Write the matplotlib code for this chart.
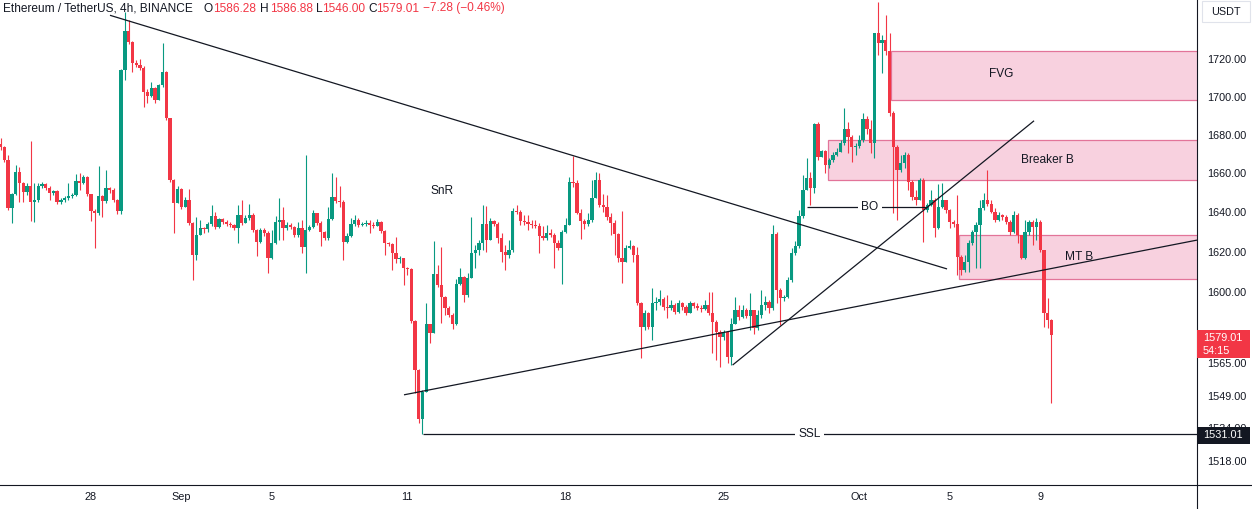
import numpy as np
import pandas as pd
import matplotlib
matplotlib.use('Agg')
import matplotlib.pyplot as plt
import matplotlib.dates as mdates
import matplotlib.ticker as mticker
from matplotlib.patches import Rectangle
from matplotlib.lines import Line2D

# ── Data: ETH/USDT 4h candles ──────────────────────────────────────────────
START = pd.Timestamp('2023-08-24 00:00')
first_open = 1675.2

close = [
    1673.7, 1666.9, 1642.3, 1649.5, 1660.8, 1655.1, 1650.5, 1653.6, 1645.4, 1646.4,
    1653.6, 1654.6, 1652.6, 1650.0, 1651.0, 1645.4, 1646.4, 1647.5, 1648.5, 1649.0,
    1656.2, 1655.1, 1658.2, 1649.5, 1640.8, 1639.8, 1648.5, 1645.9, 1652.6, 1651.6,
    1646.4, 1640.8, 1714.4, 1735.0, 1729.0, 1717.8, 1716.7, 1715.1, 1702.5, 1700.4,
    1704.6, 1698.3, 1706.2, 1713.0, 1688.8, 1656.6, 1644.9, 1652.1, 1642.9, 1646.4,
    1634.7, 1618.6, 1628.6, 1632.2, 1631.7, 1634.2, 1638.2, 1632.7, 1636.7, 1635.2,
    1634.2, 1633.7, 1632.2, 1638.7, 1634.7, 1637.2, 1638.7, 1631.1, 1625.1, 1631.1,
    1629.6, 1617.0, 1624.6, 1635.2, 1636.2, 1632.2, 1633.7, 1632.7, 1628.6, 1632.2,
    1622.6, 1631.1, 1632.7, 1639.8, 1634.7, 1630.1, 1627.1, 1636.7, 1648.0, 1645.9,
    1645.4, 1625.1, 1628.1, 1634.2, 1636.2, 1633.7, 1634.2, 1634.7, 1633.7, 1633.2,
    1635.2, 1630.6, 1624.6, 1624.1, 1619.6, 1616.5, 1617.0, 1612.0, 1611.5, 1585.6,
    1561.7, 1538.2, 1551.1, 1584.1, 1579.8, 1609.0, 1603.5, 1597.6, 1592.1, 1588.6,
    1584.1, 1604.0, 1607.5, 1598.5, 1607.0, 1619.6, 1621.1, 1624.6, 1634.2, 1626.0,
    1635.7, 1634.2, 1627.1, 1620.1, 1618.6, 1621.1, 1640.8, 1640.3, 1635.7, 1635.2,
    1634.2, 1633.7, 1633.2, 1628.1, 1627.1, 1629.6, 1628.6, 1624.6, 1622.1, 1630.1,
    1633.7, 1655.7, 1655.1, 1639.8, 1635.7, 1634.2, 1636.2, 1647.5, 1656.6, 1643.9,
    1642.9, 1637.7, 1634.7, 1629.1, 1617.0, 1615.0, 1622.1, 1623.1, 1618.6, 1594.6,
    1582.7, 1589.6, 1582.7, 1594.6, 1595.1, 1596.6, 1592.6, 1592.1, 1593.6, 1590.1,
    1594.6, 1592.6, 1589.6, 1594.6, 1593.1, 1592.1, 1591.6, 1593.6, 1589.6, 1585.1,
    1580.2, 1577.8, 1580.2, 1568.0, 1584.1, 1591.1, 1587.6, 1591.1, 1588.1, 1591.1,
    1582.2, 1588.6, 1593.6, 1595.1, 1592.1, 1629.1, 1601.0, 1597.1, 1597.6, 1606.0,
    1619.6, 1623.1, 1638.2, 1651.6, 1657.7, 1652.6, 1685.6, 1668.5, 1671.6, 1664.4,
    1666.9, 1669.5, 1671.1, 1675.7, 1683.1, 1678.9, 1673.7, 1674.2, 1677.3, 1688.3,
    1683.1, 1675.7, 1733.9, 1728.5, 1730.1, 1724.2, 1691.4, 1673.7, 1661.8, 1665.4,
    1669.5, 1655.7, 1648.0, 1646.4, 1656.6, 1641.3, 1643.9, 1646.4, 1632.2, 1642.9,
    1646.4, 1641.3, 1635.2, 1634.2, 1617.5, 1611.0, 1615.0, 1624.6, 1630.1, 1633.7,
    1642.3, 1646.4, 1644.4, 1640.3, 1636.2, 1638.7, 1637.7, 1635.2, 1630.1, 1638.7,
    1628.6, 1617.0, 1630.1, 1635.2, 1632.7, 1635.2, 1621.1, 1589.6, 1586.29, 1579.01,
]

high = [
    1678.3, 1674.2, 1669.5, 1650.0, 1664.4, 1663.4, 1655.7, 1655.1, 1676.8, 1655.1,
    1655.1, 1655.7, 1655.1, 1653.6, 1651.6, 1651.6, 1647.5, 1648.5, 1655.1, 1650.0,
    1659.8, 1660.3, 1659.2, 1658.7, 1649.5, 1641.8, 1663.9, 1649.0, 1661.8, 1653.1,
    1652.6, 1646.9, 1715.0, 1745.2, 1740.9, 1729.6, 1719.4, 1719.9, 1716.2, 1704.1,
    1707.8, 1705.1, 1706.7, 1728.5, 1713.6, 1688.8, 1657.2, 1653.6, 1652.6, 1648.0,
    1652.1, 1635.2, 1637.7, 1636.2, 1632.7, 1635.2, 1643.9, 1640.3, 1637.2, 1637.2,
    1636.2, 1635.2, 1634.2, 1643.9, 1646.4, 1638.7, 1644.4, 1639.8, 1631.7, 1632.2,
    1632.2, 1630.7, 1631.1, 1638.2, 1647.5, 1642.9, 1635.2, 1634.7, 1633.2, 1635.2,
    1636.2, 1669.5, 1633.7, 1641.3, 1639.8, 1635.7, 1630.6, 1642.9, 1660.3, 1658.2,
    1653.6, 1646.4, 1629.6, 1637.2, 1638.7, 1637.2, 1635.2, 1636.2, 1636.2, 1635.2,
    1636.7, 1635.7, 1631.1, 1625.1, 1624.6, 1627.6, 1618.1, 1617.0, 1612.5, 1612.0,
    1586.1, 1562.2, 1552.1, 1594.6, 1584.1, 1625.6, 1613.5, 1622.6, 1598.0, 1593.1,
    1589.6, 1606.5, 1612.0, 1608.0, 1609.5, 1637.7, 1623.6, 1626.0, 1643.9, 1643.4,
    1637.2, 1636.2, 1635.2, 1629.6, 1623.6, 1626.0, 1642.3, 1643.9, 1641.3, 1638.7,
    1638.7, 1636.2, 1636.2, 1634.7, 1633.2, 1633.7, 1631.7, 1629.6, 1626.0, 1631.1,
    1637.2, 1658.2, 1669.0, 1656.6, 1641.8, 1636.7, 1639.8, 1656.6, 1660.8, 1660.3,
    1649.5, 1649.0, 1639.8, 1636.2, 1629.6, 1640.8, 1623.6, 1626.0, 1623.6, 1622.6,
    1595.1, 1591.1, 1590.1, 1602.0, 1597.6, 1601.0, 1597.6, 1598.5, 1596.0, 1594.6,
    1596.0, 1595.1, 1593.6, 1595.6, 1595.1, 1594.6, 1593.6, 1596.0, 1600.0, 1600.0,
    1586.1, 1581.2, 1581.2, 1580.2, 1587.1, 1597.6, 1593.6, 1593.6, 1592.1, 1599.5,
    1588.1, 1591.1, 1601.0, 1598.0, 1596.0, 1633.7, 1630.1, 1602.0, 1598.5, 1607.5,
    1622.1, 1625.6, 1641.3, 1659.3, 1667.9, 1660.8, 1686.2, 1686.7, 1672.1, 1672.1,
    1667.9, 1671.1, 1673.1, 1677.3, 1694.1, 1686.7, 1679.9, 1675.7, 1679.9, 1691.4,
    1689.9, 1687.8, 1733.9, 1750.6, 1732.8, 1743.6, 1733.9, 1692.5, 1674.7, 1669.5,
    1671.1, 1670.5, 1656.6, 1651.6, 1657.7, 1657.7, 1644.9, 1651.6, 1647.5, 1654.6,
    1655.1, 1646.4, 1641.8, 1636.2, 1649.0, 1618.6, 1618.6, 1626.0, 1631.1, 1635.2,
    1646.4, 1650.0, 1661.8, 1646.4, 1642.3, 1640.3, 1639.3, 1638.7, 1636.2, 1640.8,
    1639.8, 1628.6, 1636.2, 1636.2, 1636.2, 1637.2, 1636.2, 1621.1, 1597.1, 1586.88,
]

low = [
    1672.1, 1665.9, 1641.3, 1634.7, 1649.0, 1645.4, 1645.4, 1649.0, 1635.7, 1635.2,
    1645.4, 1652.6, 1651.6, 1646.4, 1649.0, 1644.4, 1644.4, 1645.4, 1646.4, 1647.5,
    1648.5, 1651.6, 1654.6, 1648.5, 1635.7, 1622.1, 1638.7, 1637.7, 1644.9, 1650.0,
    1645.4, 1639.3, 1639.3, 1708.8, 1728.0, 1713.0, 1715.6, 1714.1, 1694.6, 1696.7,
    1699.9, 1696.7, 1698.3, 1705.1, 1687.8, 1655.7, 1629.6, 1644.9, 1641.8, 1642.9,
    1633.7, 1606.0, 1616.0, 1628.6, 1629.6, 1630.1, 1633.2, 1631.7, 1632.2, 1634.2,
    1633.2, 1632.7, 1631.1, 1624.6, 1633.7, 1634.7, 1636.2, 1630.1, 1618.1, 1624.6,
    1628.1, 1609.5, 1616.5, 1624.1, 1626.0, 1626.0, 1631.1, 1631.7, 1627.6, 1627.6,
    1619.6, 1609.5, 1630.6, 1632.2, 1633.7, 1623.1, 1626.0, 1626.0, 1636.2, 1644.9,
    1642.9, 1616.0, 1624.6, 1627.6, 1633.2, 1632.7, 1633.2, 1633.2, 1629.6, 1632.2,
    1633.2, 1629.6, 1618.6, 1623.1, 1611.0, 1614.5, 1614.5, 1603.5, 1608.5, 1584.6,
    1550.7, 1536.3, 1531.01, 1551.1, 1574.9, 1579.8, 1602.5, 1584.6, 1588.6, 1587.6,
    1581.7, 1583.7, 1603.5, 1595.1, 1597.6, 1607.0, 1612.0, 1618.6, 1621.1, 1620.1,
    1626.0, 1633.2, 1624.6, 1615.0, 1611.0, 1617.0, 1620.1, 1639.3, 1633.7, 1633.7,
    1631.1, 1632.2, 1632.2, 1619.6, 1626.0, 1626.0, 1627.6, 1612.0, 1621.1, 1604.0,
    1629.6, 1633.7, 1653.1, 1639.3, 1626.5, 1631.7, 1633.2, 1635.2, 1647.5, 1642.9,
    1640.3, 1636.2, 1628.6, 1618.6, 1615.0, 1604.5, 1615.0, 1621.6, 1615.0, 1593.6,
    1567.6, 1581.2, 1581.7, 1576.3, 1591.1, 1593.6, 1591.1, 1587.1, 1591.1, 1589.1,
    1589.6, 1591.1, 1588.6, 1589.6, 1592.1, 1591.1, 1590.1, 1591.1, 1588.6, 1570.0,
    1566.6, 1563.2, 1576.3, 1565.1, 1564.1, 1584.1, 1586.1, 1587.1, 1587.1, 1581.2,
    1579.3, 1581.2, 1587.1, 1591.1, 1589.6, 1591.1, 1594.6, 1583.7, 1595.6, 1597.1,
    1605.0, 1618.6, 1622.1, 1637.2, 1651.6, 1643.9, 1650.0, 1666.9, 1668.4, 1660.3,
    1662.8, 1665.9, 1669.0, 1671.1, 1674.7, 1670.5, 1665.9, 1669.5, 1673.1, 1676.3,
    1680.4, 1670.5, 1667.9, 1722.0, 1712.5, 1722.0, 1689.9, 1639.8, 1636.2, 1660.8,
    1662.8, 1651.6, 1646.4, 1643.9, 1649.0, 1625.1, 1640.3, 1643.4, 1627.6, 1631.7,
    1642.3, 1639.8, 1632.2, 1632.7, 1608.5, 1608.5, 1610.0, 1610.0, 1623.6, 1612.0,
    1612.0, 1641.3, 1643.4, 1639.8, 1635.2, 1635.7, 1636.2, 1634.2, 1628.6, 1629.6,
    1624.6, 1616.5, 1616.5, 1628.6, 1623.6, 1626.0, 1620.1, 1582.7, 1582.2, 1546.00,
]

# price-axis ticks and time-axis labels
price_ticks = [1518, 1534, 1549, 1565, 1600, 1620, 1640, 1660, 1680, 1700, 1720]
date_ticks = ['2023-08-28', '2023-09-01', '2023-09-05', '2023-09-11', '2023-09-18',
              '2023-09-25', '2023-10-01', '2023-10-05', '2023-10-09']
date_labels = ['28', 'Sep', '5', '11', '18', '25', 'Oct', '5', '9']

# drawings: (days after START, price)
desc_line = [(4.84, 1743.6), (41.88, 1611.5)]
rise_line = [(17.85, 1549.7), (52.94, 1626.0)]
steep_line = [(32.39, 1564.1), (45.73, 1687.4)]
ssl_level, ssl_from, ssl_text_at = 1531.01, 18.69, 35.8
bo_level, bo_from, bo_to, bo_text_at = 1642.9, 35.68, 40.99, 38.47
zones = [  # label, start day, bottom, top, label day, label price
    ('FVG', 39.40, 1698.3, 1724.2, 44.27, 1712.0),
    ('Breaker B', 36.60, 1656.6, 1677.3, 46.30, 1666.9),
    ('MT B', 42.42, 1606.5, 1628.6, 47.72, 1617.5),
]
snr_label = (19.53, 1651.0)

# ── Style ───────────────────────────────────────────────────────────────────
plt.rcParams['font.family'] = ['Liberation Sans', 'DejaVu Sans']
UP, DOWN, INK = '#089981', '#f23645', '#131722'
W, H = 1252, 509

fig = plt.figure(figsize=(W / 100, H / 100), dpi=100)
fig.patch.set_facecolor('white')
ax = fig.add_axes([0, 24 / H, 1197 / W, 485 / H])
ax.set_yscale('log')
ax.set_ylim(1506.9, 1751.9)

t0 = mdates.date2num(START)
def day(d):
    return t0 + d

x_right = day(52.94)
ax.set_xlim(day(-0.0265), x_right)

# ── Candles ─────────────────────────────────────────────────────────────────
c = np.array(close)
o = np.concatenate([[first_open], c[:-1]])
hi = np.maximum(np.array(high), np.maximum(o, c))
lo = np.minimum(np.array(low), np.minimum(o, c))
x = mdates.date2num(pd.date_range(START, periods=len(c), freq='4h'))
cols = np.where(c >= o, UP, DOWN)

ax.vlines(x, lo, hi, colors=cols, lw=0.8, zorder=3)
body_lo = np.minimum(o, c)
body_h = np.maximum(np.abs(c - o), 0.4)
ax.bar(x, body_h, bottom=body_lo, width=0.145, color=cols, linewidth=0, zorder=4)

# ── Drawings ────────────────────────────────────────────────────────────────
for seg in (desc_line, rise_line, steep_line):
    ax.plot([day(seg[0][0]), day(seg[1][0])], [seg[0][1], seg[1][1]],
            color=INK, lw=0.9, zorder=6, solid_capstyle='butt')

for name, d0, bot, top, dl, pl in zones:
    ax.add_patch(Rectangle((day(d0), bot), x_right + 1 - day(d0), top - bot,
                           facecolor='#f8d1df', edgecolor='#e27499', lw=0.9, zorder=1))
    ax.text(day(dl), pl, name, ha='center', va='center', fontsize=8.6, color=INK, zorder=7)

ax.hlines(ssl_level, day(ssl_from), x_right, color=INK, lw=0.9, zorder=6)
ax.text(day(ssl_text_at), ssl_level, 'SSL', ha='center', va='center', fontsize=8.6,
        color=INK, zorder=7,
        bbox=dict(boxstyle='square,pad=0.3', facecolor='white', edgecolor='none'))

ax.hlines(bo_level, day(bo_from), day(bo_to), color=INK, lw=0.9, zorder=6)
ax.text(day(bo_text_at), bo_level, 'BO', ha='center', va='center', fontsize=8.6,
        color=INK, zorder=7,
        bbox=dict(boxstyle='square,pad=0.3', facecolor='white', edgecolor='none'))

ax.text(day(snr_label[0]), snr_label[1], 'SnR', ha='center', va='center',
        fontsize=8.6, color=INK, zorder=7)

# ── Axes ────────────────────────────────────────────────────────────────────
for s in ax.spines.values():
    s.set_visible(False)
ax.yaxis.tick_right()
ax.yaxis.set_major_locator(mticker.FixedLocator(price_ticks))
ax.yaxis.set_minor_locator(mticker.NullLocator())
ax.yaxis.set_major_formatter(mticker.FuncFormatter(lambda v, p: f'{v:.2f}'))
ax.tick_params(axis='y', length=0, pad=7, labelsize=7.8, colors=INK)

ax.set_xticks([mdates.date2num(pd.Timestamp(d)) for d in date_ticks])
ax.set_xticklabels(date_labels)
ax.tick_params(axis='x', length=0, pad=5, labelsize=7.8, colors=INK)

def px(xp, yp):
    return xp / W, 1 - yp / H

fig.add_artist(Line2D([1197 / W, 1197 / W], [0, 1], color=INK, lw=0.8))
fig.add_artist(Line2D([0, 1], [1 - 485 / H, 1 - 485 / H], color=INK, lw=0.8))

# USDT box
fig.add_artist(Rectangle(px(1202, 22), 48 / W, 21 / H, facecolor='white',
                         edgecolor='#e0e3eb', lw=0.8, transform=fig.transFigure))
fig.text(*px(1226, 11.5), 'USDT', ha='center', va='center', fontsize=7.8, color=INK)

# last price label
fig.add_artist(Rectangle(px(1197, 358), 53 / W, 28 / H, facecolor=DOWN,
                         edgecolor='none', transform=fig.transFigure, zorder=5))
fig.text(*px(1203, 338), '1579.01', ha='left', va='center', fontsize=7.8,
         color='white', zorder=6)
fig.text(*px(1203, 351.5), '54:15', ha='left', va='center', fontsize=7.8,
         color='white', zorder=6)

# SSL price label
fig.add_artist(Rectangle(px(1197, 444), 53 / W, 17 / H, facecolor=INK,
                         edgecolor='none', transform=fig.transFigure, zorder=5))
fig.text(*px(1203, 435.5), '1531.01', ha='left', va='center', fontsize=7.8,
         color='white', zorder=6)

# ── Header ──────────────────────────────────────────────────────────────────
hy = 8.5
fig.text(*px(3, hy), 'Ethereum / TetherUS, 4h, BINANCE', ha='left', va='center',
         fontsize=8.6, color=INK, zorder=8)
for letter, lx, val, vx in [('O', 204, '1586.28', 213), ('H', 260, '1586.88', 270),
                            ('L', 316, '1546.00', 322), ('C', 368, '1579.01', 376)]:
    fig.text(*px(lx, hy), letter, ha='left', va='center', fontsize=8.6, color=INK, zorder=8)
    fig.text(*px(vx, hy), val, ha='left', va='center', fontsize=8.6, color=DOWN, zorder=8)
fig.text(*px(423, hy), '\u22127.28 (\u22120.46%)', ha='left', va='center',
         fontsize=8.6, color=DOWN, zorder=8)

fig.savefig('out.png', dpi=100, facecolor='white')
